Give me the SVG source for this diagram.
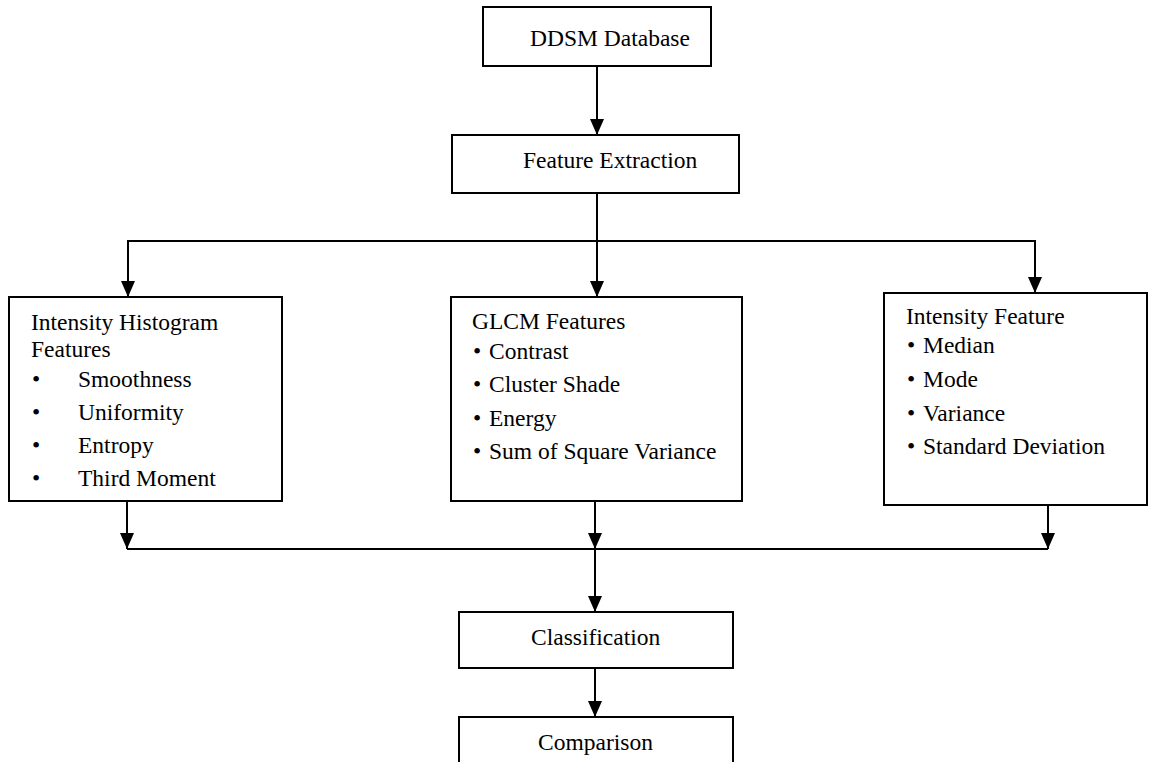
<svg xmlns="http://www.w3.org/2000/svg" width="1158" height="762" viewBox="0 0 1158 762">
<style>
.box{fill:#fff;stroke:#000;stroke-width:2}
.t{font-family:"Liberation Serif","Times New Roman",serif;font-size:23.5px;fill:#000}
.c{fill:none;stroke:#000;stroke-width:2}
</style>
<defs>
<marker id="ah" markerUnits="userSpaceOnUse" viewBox="0 0 16 14" refX="16" refY="7" markerWidth="16" markerHeight="14" orient="auto">
<path d="M0,0 L16,7 L0,14 z" fill="#000"/>
</marker>
</defs>
<rect width="1158" height="762" fill="#fff"/>
<g id="connectors">
<line class="c" x1="597" y1="66" x2="597" y2="135" marker-end="url(#ah)"/>
<line class="c" x1="597" y1="193" x2="597" y2="297" marker-end="url(#ah)"/>
<polyline class="c" points="128,297 128,241 1035,241 1035,293" />
<line class="c" x1="128" y1="241" x2="128" y2="297" marker-end="url(#ah)"/>
<line class="c" x1="1035" y1="241" x2="1035" y2="293" marker-end="url(#ah)"/>
<line class="c" x1="127" y1="501" x2="127" y2="549" marker-end="url(#ah)"/>
<line class="c" x1="595" y1="501" x2="595" y2="549" marker-end="url(#ah)"/>
<line class="c" x1="1048" y1="505" x2="1048" y2="549" marker-end="url(#ah)"/>
<line class="c" x1="127" y1="549" x2="1048" y2="549"/>
<line class="c" x1="595" y1="549" x2="595" y2="612" marker-end="url(#ah)"/>
<line class="c" x1="595" y1="668" x2="595" y2="717" marker-end="url(#ah)"/>
</g>
<g id="ddsm">
<rect class="box" x="483" y="7" width="228" height="59"/>
<text class="t" x="530" y="46">DDSM Database</text>
</g>
<g id="feature-extraction">
<rect class="box" x="452" y="135" width="287" height="58"/>
<text class="t" x="523" y="168">Feature Extraction</text>
</g>
<g id="intensity-histogram">
<rect class="box" x="9" y="297" width="273" height="204"/>
<text class="t" x="31" y="330">Intensity Histogram</text>
<text class="t" x="31" y="357">Features</text>
<text class="t" x="32" y="387">•</text><text class="t" x="78" y="387">Smoothness</text>
<text class="t" x="32" y="420">•</text><text class="t" x="78" y="420">Uniformity</text>
<text class="t" x="32" y="453">•</text><text class="t" x="78" y="453">Entropy</text>
<text class="t" x="32" y="486">•</text><text class="t" x="78" y="486">Third Moment</text>
</g>
<g id="glcm">
<rect class="box" x="451" y="297" width="291" height="204"/>
<text class="t" x="472" y="329">GLCM Features</text>
<text class="t" x="473" y="359">•</text><text class="t" x="489" y="359">Contrast</text>
<text class="t" x="473" y="392">•</text><text class="t" x="489" y="392">Cluster Shade</text>
<text class="t" x="473" y="426">•</text><text class="t" x="489" y="426">Energy</text>
<text class="t" x="473" y="459">•</text><text class="t" x="489" y="459">Sum of Square Variance</text>
</g>
<g id="intensity-feature">
<rect class="box" x="884" y="293" width="263" height="212"/>
<text class="t" x="906" y="324">Intensity Feature</text>
<text class="t" x="907" y="353">•</text><text class="t" x="923" y="353">Median</text>
<text class="t" x="907" y="387">•</text><text class="t" x="923" y="387">Mode</text>
<text class="t" x="907" y="421">•</text><text class="t" x="923" y="421">Variance</text>
<text class="t" x="907" y="454">•</text><text class="t" x="923" y="454">Standard Deviation</text>
</g>
<g id="classification">
<rect class="box" x="459" y="612" width="274" height="56"/>
<text class="t" x="531" y="645">Classification</text>
</g>
<g id="comparison">
<rect class="box" x="459" y="717" width="274" height="60"/>
<text class="t" x="538" y="750">Comparison</text>
</g>
</svg>
